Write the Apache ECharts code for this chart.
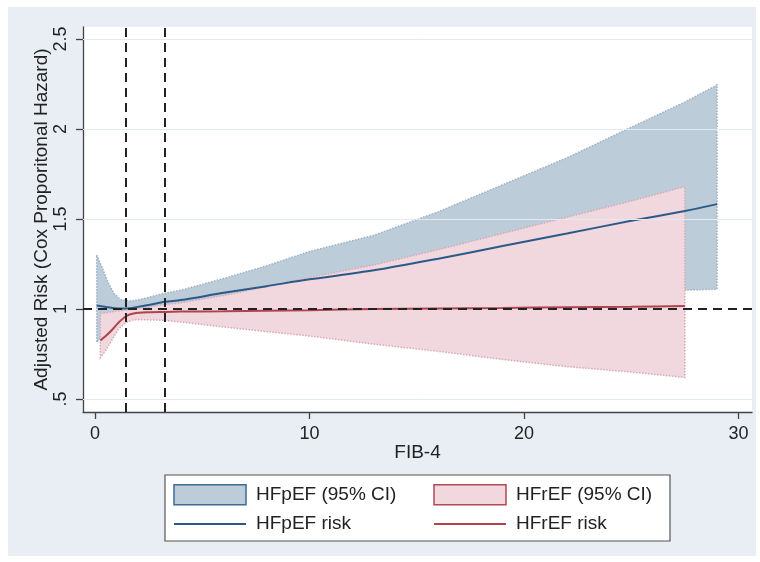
<!DOCTYPE html>
<html><head><meta charset="utf-8">
<script src="https://cdn.jsdelivr.net/npm/echarts@6/dist/echarts.min.js"></script>
<style>
html,body{margin:0;padding:0;background:#fff;width:760px;height:562px;overflow:hidden}
#bg{position:absolute;left:8px;top:7px;width:748px;height:549px;background:#e9edf4}
#c{position:absolute;left:0;top:0;width:760px;height:562px}
</style></head>
<body><div id="bg"></div><div id="c"></div>
<script>
// ---- data ----
const xTicks = [0, 10, 20, 30];
const yTicks = [0.5, 1, 1.5, 2, 2.5];
const yTickLabels = ['.5', '1', '1.5', '2', '2.5'];
const cutoffs = [1.45, 3.25];
const refLine = 1;

// HFpEF
const xP   = [0.08, 0.3, 0.6, 0.9, 1.2, 1.6, 2.0, 2.5, 3.25, 4, 6, 8, 10, 13, 16, 19, 22, 25, 27.5, 29];
const pRisk= [1.02, 1.015, 1.01, 1.005, 1.003, 1.005, 1.012, 1.022, 1.04, 1.05, 1.09, 1.127, 1.165, 1.215, 1.28, 1.35, 1.42, 1.49, 1.545, 1.583];
const pUp  = [1.30, 1.24, 1.15, 1.085, 1.052, 1.045, 1.05, 1.065, 1.088, 1.105, 1.17, 1.24, 1.32, 1.41, 1.54, 1.69, 1.84, 2.01, 2.15, 2.245];
const pLo  = [0.815, 0.845, 0.9, 0.945, 0.965, 0.975, 0.98, 0.985, 0.99, 0.997, 1.01, 1.02, 1.03, 1.045, 1.06, 1.075, 1.09, 1.10, 1.105, 1.11];

// HFrEF
const xR   = [0.25, 0.5, 0.8, 1.1, 1.45, 1.8, 2.5, 3.25, 4, 6, 8, 10, 13, 16, 19, 22, 25, 27.5];
const rRisk= [0.825, 0.85, 0.885, 0.925, 0.96, 0.975, 0.982, 0.984, 0.986, 0.988, 0.991, 0.994, 1.0, 1.003, 1.006, 1.01, 1.013, 1.017];
const rUp  = [0.975, 0.978, 0.985, 0.99, 0.995, 1.0, 1.01, 1.025, 1.035, 1.075, 1.125, 1.175, 1.245, 1.33, 1.42, 1.51, 1.60, 1.68];
const rLo  = [0.73, 0.77, 0.83, 0.89, 0.925, 0.94, 0.94, 0.937, 0.928, 0.9, 0.875, 0.85, 0.805, 0.765, 0.72, 0.68, 0.65, 0.62];

// ---- helpers ----
const zip = (xs, ys) => xs.map((x, i) => [x, ys[i]]);

const FONT = 'Liberation Sans, Arial, sans-serif';
const TXT = '#222';
const AX = '#444';
const BLUE_FILL = '#bdccd9', BLUE_EDGE = '#9db1c4', BLUE_LINE = '#2b5a8a';
const PINK_FILL = '#f1d7de', PINK_EDGE = '#d6aab5', RED_LINE = '#b0444d';

function bandSeries(name, xs, lo, hi, fill, edge) {
  const rows = xs.map((x, i) => [x, lo[i], hi[i]]);
  return {
    name, type: 'custom', z: 2, clip: true, silent: true,
    data: rows,
    encode: {x: 0, y: [1, 2]},
    itemStyle: {color: fill},
    renderItem: (params, api) => {
      if (params.dataIndex !== 0) return null;
      const up = rows.map(r => api.coord([r[0], r[2]]));
      const dn = rows.map(r => api.coord([r[0], r[1]])).reverse();
      const pts = up.concat(dn);
      return {type: 'group', children: [
        {type: 'polygon', shape: {points: pts}, style: {fill: fill, stroke: null}},
        {type: 'polygon', shape: {points: pts}, style: {fill: null, stroke: edge, lineWidth: 1.5, lineDash: [1.5, 1.5]}}
      ]};
    }
  };
}

const chart = echarts.init(document.getElementById('c'), null, {renderer: 'canvas'});
chart.setOption({
  animation: false,
  backgroundColor: 'transparent',
  textStyle: {fontFamily: FONT, color: TXT},
  grid: {left: 83, top: 27, width: 669, height: 385, show: true, backgroundColor: '#fff', borderWidth: 0},
  xAxis: {
    type: 'value', min: -0.559, max: 30.63,
    axisLine: {show: true, onZero: false, lineStyle: {color: AX, width: 1.3}},
    axisTick: {show: true, customValues: xTicks, length: 7, lineStyle: {color: AX, width: 1.3}},
    axisLabel: {customValues: xTicks, fontSize: 18, color: TXT, margin: 13, fontFamily: FONT},
    splitLine: {show: false},
    name: 'FIB-4', nameLocation: 'middle', nameGap: 31, nameMoveOverlap: false,
    nameTextStyle: {fontSize: 19, color: TXT, fontFamily: FONT}
  },
  yAxis: {
    type: 'value', min: 0.428, max: 2.567,
    axisLine: {show: true, onZero: false, lineStyle: {color: AX, width: 1.3}},
    axisTick: {show: true, customValues: yTicks, length: 7, lineStyle: {color: AX, width: 1.3}},
    axisLabel: {customValues: yTicks, rotate: 90, fontSize: 18, color: TXT, margin: 13, fontFamily: FONT,
      formatter: v => { const i = yTicks.indexOf(v); return i >= 0 ? yTickLabels[i] : ''; }},
    splitLine: {show: false},
    name: 'Adjusted Risk (Cox Proporitonal Hazard)', nameLocation: 'middle', nameGap: 32, nameMoveOverlap: false,
    nameTextStyle: {fontSize: 19, color: TXT, fontFamily: FONT}
  },
  legend: [
    {left: 173, top: 484, orient: 'vertical', padding: 0, itemWidth: 72, itemHeight: 20, itemGap: 8.5,
     selectedMode: false,
     textStyle: {fontSize: 19, color: TXT, lineHeight: 20, fontFamily: FONT, padding: [0, 0, 0, 5]},
     data: [
       {name: 'HFpEF (95% CI)', icon: 'rect', itemStyle: {color: BLUE_FILL, borderColor: '#3f6a96', borderWidth: 1.5, opacity: 1}},
       {name: 'HFpEF risk', itemStyle: {opacity: 0}}
     ]},
    {left: 433, top: 484, orient: 'vertical', padding: 0, itemWidth: 72, itemHeight: 20, itemGap: 8.5,
     selectedMode: false,
     textStyle: {fontSize: 19, color: TXT, lineHeight: 20, fontFamily: FONT, padding: [0, 0, 0, 5]},
     data: [
       {name: 'HFrEF (95% CI)', icon: 'rect', itemStyle: {color: PINK_FILL, borderColor: '#b04a55', borderWidth: 1.5, opacity: 1}},
       {name: 'HFrEF risk', itemStyle: {opacity: 0}}
     ]}
  ],
  graphic: [
    {type: 'rect', shape: {x: 165, y: 475, width: 505, height: 66}, style: {fill: '#fff', stroke: '#555', lineWidth: 1.2}, z: 0, silent: true}
  ],
  series: [
    {name: 'grid-lines', type: 'line', data: [], z: 1, silent: true,
     markLine: {silent: true, symbol: 'none', label: {show: false}, animation: false,
       data: yTicks.filter(v => v !== refLine).map(v => ({yAxis: v, lineStyle: {color: '#e3e9f0', width: 1, type: 'solid'}}))
         .concat([{yAxis: refLine, lineStyle: {color: '#222', width: 2, type: [9, 6]}}])}},
    bandSeries('HFpEF (95% CI)', xP, pLo, pUp, BLUE_FILL, BLUE_EDGE),
    bandSeries('HFrEF (95% CI)', xR, rLo, rUp, PINK_FILL, PINK_EDGE),
    {name: 'HFpEF risk', type: 'line', symbol: 'none', z: 3, smooth: 0.3, data: zip(xP, pRisk),
     lineStyle: {color: BLUE_LINE, width: 2}, itemStyle: {color: BLUE_LINE}},
    {name: 'HFrEF risk', type: 'line', symbol: 'none', z: 3, smooth: 0.3, data: zip(xR, rRisk),
     lineStyle: {color: RED_LINE, width: 2}, itemStyle: {color: RED_LINE}},
    {name: 'cutoffs', type: 'line', data: [], z: 5, silent: true,
     markLine: {silent: true, symbol: 'none', label: {show: false}, animation: false,
       data: cutoffs.map(v => ({xAxis: v})),
       lineStyle: {color: '#222', width: 2, type: [9, 6]}}}
  ]
});
</script>
</body></html>
